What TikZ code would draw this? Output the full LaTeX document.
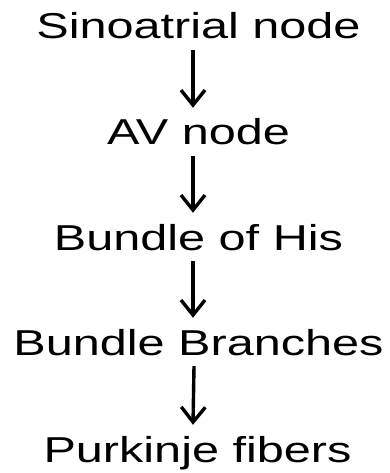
\documentclass[tikz,border=0pt]{standalone}
\usepackage{fontspec}
\setmainfont{Liberation Sans}
\usetikzlibrary{arrows.meta}
\tikzset{
  lbl/.style={anchor=base, inner sep=0pt, text height=26pt, text depth=7pt,
    font=\fontsize{36}{40}\selectfont},
  arr/.style={line width=3.4pt, -{Straight Barb[length=15pt,width=24pt,line width=3.4pt]}}
}
\newcommand{\wide}[1]{\scalebox{1.35}[1]{#1}}
\begin{document}
\begin{tikzpicture}[x=1pt,y=-1pt]
\useasboundingbox (0,0) rectangle (389,473);
\node[lbl] (sa) at (198.5,39) {\wide{Sinoatrial node}};
\node[lbl] (av) at (198.5,145) {\wide{AV node}};
\node[lbl] (his) at (198.5,250) {\wide{Bundle of His}};
\node[lbl] (bb) at (198.5,355) {\wide{Bundle Branches}};
\node[lbl] (pf) at (197.5,462) {\wide{Purkinje fibers}};
\draw[arr] ([xshift=-5.5pt,yshift=-4pt]sa.south) -- ([xshift=-5.5pt,yshift=11pt]av.north);
\draw[arr] ([xshift=-5.5pt,yshift=-4pt]av.south) -- ([xshift=-5.5pt,yshift=11pt]his.north);
\draw[arr] ([xshift=-5.5pt,yshift=-4pt]his.south) -- ([xshift=-5.5pt,yshift=11pt]bb.north);
\draw[arr] ([xshift=-4.5pt,yshift=-4pt]bb.south) -- ([xshift=-4.5pt,yshift=11pt]pf.north);
\end{tikzpicture}
\end{document}
